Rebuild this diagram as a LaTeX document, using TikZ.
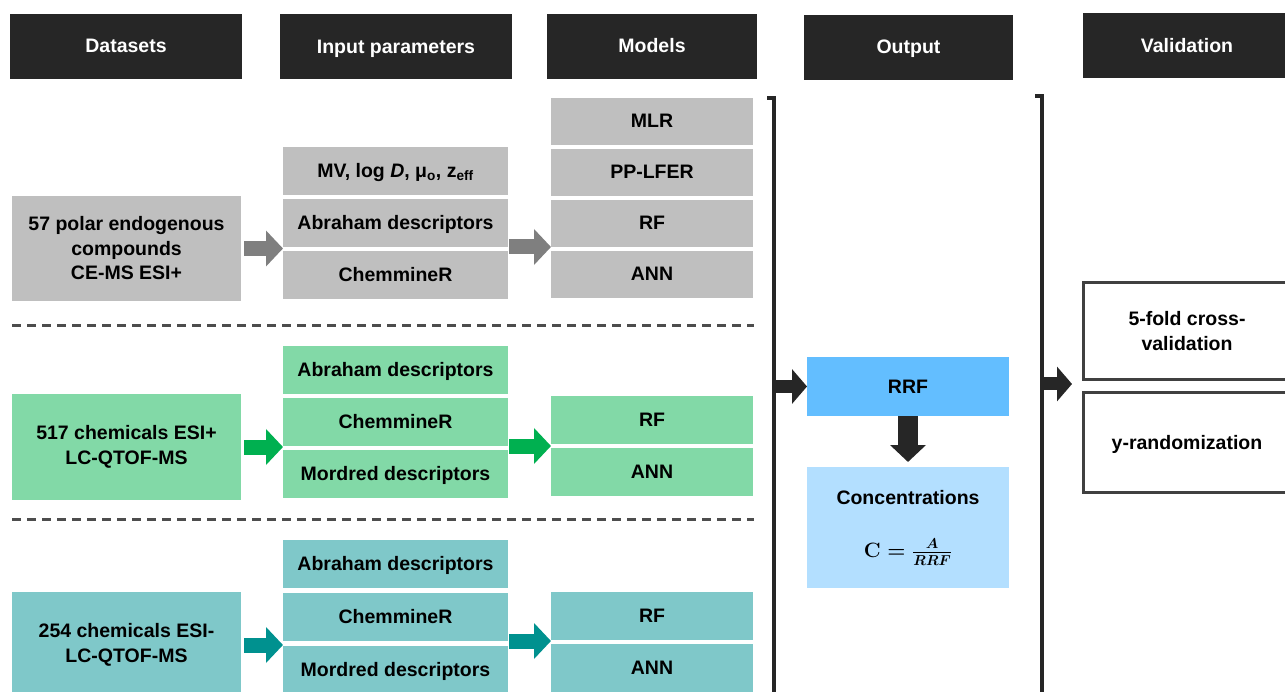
\documentclass[tikz,border=0pt]{standalone}
\usepackage[no-math]{fontspec}
\setmainfont{Liberation Sans}
\usepackage{amsmath}
\usetikzlibrary{arrows.meta}

\definecolor{hdrfill}{HTML}{262626}
\definecolor{grayfill}{HTML}{BFBFBF}
\definecolor{grayarrow}{HTML}{7F7F7F}
\definecolor{greenfill}{HTML}{82D9A7}
\definecolor{greenarrow}{HTML}{00B050}
\definecolor{tealfill}{HTML}{7FC8C9}
\definecolor{tealarrow}{HTML}{00918F}
\definecolor{rrffill}{HTML}{63BEFF}
\definecolor{concfill}{HTML}{B3DFFF}
\definecolor{dashcol}{HTML}{4D4D4D}
\definecolor{valline}{HTML}{404040}

\begin{document}
\begin{tikzpicture}[x=1pt,y=-1pt,
  lbl/.style={font=\fontsize{19.5}{24.5}\selectfont\bfseries, align=center,
              inner sep=0pt, outer sep=0pt, text=black},
  oneline/.style={text height=14pt, text depth=1pt},
  hdr/.style={lbl, oneline, fill=hdrfill, text=white, minimum height=65pt},
  dsbox/.style={lbl, minimum width=229pt, minimum height=106pt},
  inbox/.style={lbl, oneline, minimum width=225pt, minimum height=48pt},
  mdbox/.style={lbl, oneline, minimum width=202pt, minimum height=47pt},
  valbox/.style={lbl, draw=valline, line width=3pt, fill=white, minimum width=208pt},
  formula/.style={inner sep=0pt, outer sep=0pt, text=black,
                  font=\fontsize{20}{24}\selectfont\boldmath},
  fat/.style={line width=15pt, -{Triangle[length=17pt,width=35pt]}},
  fatdark/.style={line width=13pt, draw=hdrfill, -{Triangle[length=15pt,width=34pt]}},
  fatdown/.style={line width=20pt, draw=hdrfill, -{Triangle[length=17pt,width=35pt]}},
  bracket/.style={draw=hdrfill, line width=3.5pt},
  sep/.style={draw=dashcol, line width=3pt, dash pattern=on 9pt off 6pt}
]
\useasboundingbox (0,0) rectangle (1285,692);

% column headers
\node[hdr, minimum width=232pt] (hData)  at (126,46.5)  {Datasets};
\node[hdr, minimum width=232pt] (hInput) at (396,47)    {Input parameters};
\node[hdr, minimum width=210pt] (hModel) at (652,46.5)  {Models};
\node[hdr, minimum width=209pt] (hOut)   at (908.5,47.5){Output};
\node[hdr, minimum width=208pt] (hVal)   at (1187,46)   {Validation};

% dataset 1 (grey)
\node[dsbox, fill=grayfill, minimum height=105pt] (ds1) at (126.5,248.5)
  {57 polar endogenous\\compounds\\CE-MS ESI+};
\node[inbox, fill=grayfill] (in1a) at (395.5,171)
  {MV, log \textit{D}, μ\textsubscript{o}, z\textsubscript{eff}};
\node[inbox, fill=grayfill] (in1b) at (395.5,223) {Abraham descriptors};
\node[inbox, fill=grayfill] (in1c) at (395.5,275) {ChemmineR};
\node[mdbox, fill=grayfill] (m1a) at (652,121.5) {MLR};
\node[mdbox, fill=grayfill] (m1b) at (652,172.5) {PP-LFER};
\node[mdbox, fill=grayfill] (m1c) at (652,223.5) {RF};
\node[mdbox, fill=grayfill] (m1d) at (652,274.5) {ANN};
\draw[fat, grayarrow] ([xshift=3pt]ds1.east) -- (ds1.east -| in1c.west);
\draw[fat, grayarrow] ([xshift=1pt]in1b.south east) -- (in1b.south east -| m1c.west);

% separators
\coordinate (s1a) at (12,326);
\coordinate (s1b) at (754,326);
\coordinate (s2a) at (12,519);
\coordinate (s2b) at (754,519);
\draw[sep] (s1a) -- (s1b);
\draw[sep] (s2a) -- (s2b);

% dataset 2 (green)
\node[dsbox, fill=greenfill] (ds2) at (126.5,447) {517 chemicals ESI+\\LC-QTOF-MS};
\node[inbox, fill=greenfill] (in2a) at (395.5,370) {Abraham descriptors};
\node[inbox, fill=greenfill] (in2b) at (395.5,422) {ChemmineR};
\node[inbox, fill=greenfill] (in2c) at (395.5,474) {Mordred descriptors};
\node[mdbox, fill=greenfill, minimum height=48pt] (m2a) at (652,420) {RF};
\node[mdbox, fill=greenfill, minimum height=48pt] (m2b) at (652,472) {ANN};
\draw[fat, greenarrow] ([xshift=3pt]ds2.east) -- (ds2.east -| in2b.west);
\draw[fat, greenarrow] ([xshift=1pt]in2b.south east) -- (in2b.south east -| m2a.west);

% dataset 3 (teal)
\node[dsbox, fill=tealfill] (ds3) at (126.5,645) {254 chemicals ESI-\\LC-QTOF-MS};
\node[inbox, fill=tealfill] (in3a) at (395.5,564) {Abraham descriptors};
\node[inbox, fill=tealfill] (in3b) at (395.5,617) {ChemmineR};
\node[inbox, fill=tealfill] (in3c) at (395.5,670) {Mordred descriptors};
\node[mdbox, fill=tealfill, minimum height=48pt] (m3a) at (652,616) {RF};
\node[mdbox, fill=tealfill, minimum height=48pt] (m3b) at (652,668) {ANN};
\draw[fat, tealarrow] ([xshift=3pt]ds3.east) -- (ds3.east -| in3b.west);
\draw[fat, tealarrow] ([xshift=1pt]in3b.south east) -- (in3b.south east -| m3a.west);

% output column
\coordinate (b1hook) at (767,98);
\coordinate (b1top) at (774,98);
\coordinate (b1bot) at (774,700);
\draw[bracket] (b1hook) -- (b1top) -- (b1bot);

\node[lbl, oneline, fill=rrffill, minimum width=202pt, minimum height=59pt] (rrf) at (908,386.5) {RRF};
\node[lbl, fill=concfill, minimum width=202pt, minimum height=121pt] (conc) at (908,527.5) {};
\node[lbl, oneline] (concT) at (908,498) {Concentrations};
\node[formula] (concF) at (908,552) {$\mathbf{C}=\frac{A}{RRF}$};
\draw[fatdark] (b1top |- rrf.west) -- (rrf.west);
\draw[fatdown] (rrf.south) -- ([yshift=5pt]conc.north);

% validation column
\coordinate (b2hook) at (1035,96);
\coordinate (b2top) at (1042,96);
\coordinate (b2bot) at (1042,700);
\draw[bracket] (b2hook) -- (b2top) -- (b2bot);

\node[valbox, minimum height=97pt] (v1) at (1187,331) {5-fold cross-\\validation};
\node[valbox, oneline, minimum height=99pt] (v2) at (1187,442.5) {y-randomization};
\coordinate (varr) at (1072,384);
\draw[fatdark] (b2top |- varr) -- (varr);
\end{tikzpicture}
\end{document}
